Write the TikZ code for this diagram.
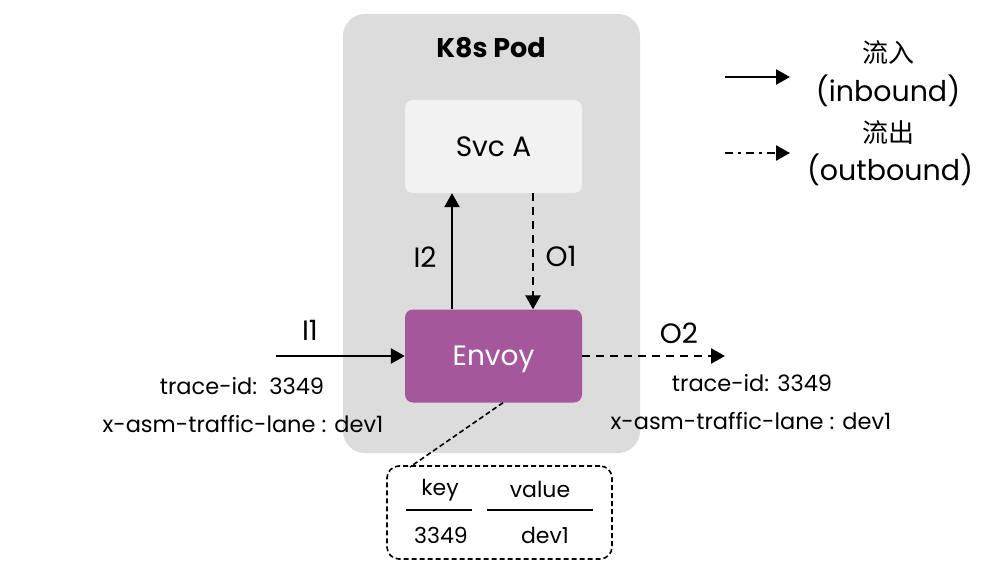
\documentclass[tikz,border=0pt]{standalone}
\usepackage{fontspec}
\setmainfont{Poppins}
\newfontfamily\cjk{Noto Sans CJK SC}
\usetikzlibrary{arrows.meta}
\definecolor{podgray}{HTML}{DCDCDC}
\definecolor{svcgray}{HTML}{F2F2F2}
\definecolor{envoypurple}{HTML}{A5579C}
\tikzset{
  box/.style={rounded corners=8pt, minimum width=177pt, minimum height=93pt, inner sep=0pt,
              font=\fontsize{28}{32}\selectfont, text height=19.5pt, text depth=0pt},
  lbl/.style={inner sep=0pt, font=\fontsize{22.5}{26}\selectfont},
  tbltxt/.style={inner sep=0pt, font=\fontsize{22}{26}\selectfont},
  big/.style={inner sep=0pt, font=\fontsize{28}{32}\selectfont},
  leg/.style={inner sep=0pt, font=\fontsize{28.5}{32}\selectfont},
  flow/.style={line width=2.6pt, -{Triangle[length=14pt,width=15pt]}},
  outflow/.style={flow, dash pattern=on 8pt off 6pt},
}
\begin{document}
\begin{tikzpicture}[x=1pt,y=-1pt]
\useasboundingbox (0,0) rectangle (986,575);
% pod
\fill[podgray, rounded corners=22pt] (343,14) rectangle (640,453);
\node[inner sep=0pt, font=\fontsize{27}{30}\selectfont\bfseries] (pod) at (491,48) {K8s Pod};
% boxes
\node[box, fill=svcgray] (svc) at (493.5,146.5) {Svc A};
\node[box, fill=envoypurple, text=white] (envoy) at (493.5,356) {Envoy};
% internal arrows
\draw[flow] (envoy.north -| 452,0) -- (svc.south -| 452,0);
\draw[outflow] (svc.south -| 533,0) -- (envoy.north -| 533,0);
\node[big] (i2) at (425,257) {I2};
\node[big] (o1) at (561,256) {O1};
% inbound
\coordinate (inl) at (276,356);
\draw[flow] (inl) -- (envoy.west);
\node[big] (i1) at (310,330) {I1};
\node[lbl] (lt1) at (242,386) {trace-id:\ \ 3349};
\node[lbl] (lt2) at (243,424) {x-asm-traffic-lane : dev1};
% outbound
\coordinate (outr) at (725,356);
\draw[outflow] (envoy.east) -- (outr);
\node[big] (o2) at (679,333) {O2};
\node[lbl] (rt1) at (752,383) {trace-id: 3349};
\node[lbl] (rt2) at (751,421) {x-asm-traffic-lane : dev1};
% callout
\node[draw, line width=1.6pt, dash pattern=on 5pt off 3pt, rounded corners=12pt,
      minimum width=225pt, minimum height=93pt, inner sep=0pt] (tbl) at (499.5,512.5) {};
\draw[line width=1.6pt, dash pattern=on 5pt off 3pt] (envoy.south -| 503,0) -- (410,467);
\node[tbltxt] (key) at (440,490) {key};
\node[tbltxt] (val) at (540,489) {value};
\draw[line width=2.6pt] (406,510) -- (472,510);
\draw[line width=2.6pt] (487,510) -- (593,510);
\node[tbltxt] (kv) at (441,535) {3349};
\node[tbltxt] (vv) at (545,535) {dev1};
% legend
\coordinate (la1) at (725,77);
\coordinate (la2) at (790,77);
\draw[flow] (la1) -- (la2);
\coordinate (lb1) at (725,153);
\coordinate (lb2) at (790,153);
\draw[flow, dash pattern=on 8pt off 5pt on 3pt off 5pt] (lb1) -- (lb2);
\node[inner sep=0pt, font=\fontsize{26}{28}\selectfont\cjk] (lin) at (888,53) {流入};
\node[leg] (linb) at (888,91) {(inbound)};
\node[inner sep=0pt, font=\fontsize{26}{28}\selectfont\cjk] (lout) at (888,133) {流出};
\node[leg] (loutb) at (890,170) {(outbound)};
\end{tikzpicture}
\end{document}
